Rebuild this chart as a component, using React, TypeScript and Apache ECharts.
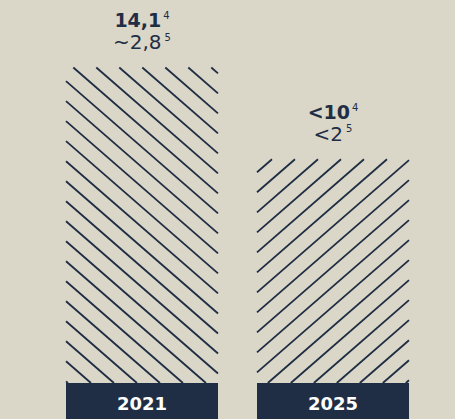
import React, { useEffect, useRef } from "react";
import * as echarts from "echarts";

const CATEGORIES = ["2021", "2025"];
const VALUES = [14.1, 10];
const MAIN_LABELS = ["14,1", "<10"];
const MAIN_NOTES = ["4", "4"];
const SUB_LABELS = ["~2,8", "<2"];
const SUB_NOTES = ["5", "5"];
const HATCH_DIRS = [1, -1];
const HATCH_OFFSETS = [7.3, 15];

const BG = "#dad6c8";
const NAVY = "#1f2e44";
const FONT = "'DejaVu Sans', sans-serif";
const BAR_RATIO = 152 / 191;
const HATCH_STEP = 23;
const HATCH_SLOPE = 0.87;

export default function App() {
  const ref = useRef<HTMLDivElement>(null);
  useEffect(() => {
    document.body.style.margin = "0";
    const chart = echarts.init(ref.current!, undefined, { renderer: "svg" });
    const option: any = {
      animation: false,
      backgroundColor: BG,
      grid: { left: 46.5, right: 26.5, top: 67.5, bottom: 36 },
      xAxis: {
        type: "category",
        data: CATEGORIES,
        axisLine: { show: false },
        axisTick: { show: false },
        axisLabel: {
          interval: 0,
          margin: 0,
          verticalAlign: "top",
          color: "#ffffff",
          fontFamily: FONT,
          fontWeight: "bold",
          fontSize: 18,
          backgroundColor: NAVY,
          width: 152,
          height: 31,
          lineHeight: 31,
          padding: [5, 0, 0, 0],
          align: "center",
        },
      },
      yAxis: {
        type: "value",
        min: 0,
        max: 14.1,
        show: false,
        splitLine: { show: false },
      },
      series: [
        {
          type: "custom",
          data: VALUES.map((v, i) => [i, v]),
          clip: false,
          renderItem: (params: any, api: any) => {
            const idx = params.dataIndex;
            const cat = api.value(0);
            const val = api.value(1);
            const topPt = api.coord([cat, val]);
            const basePt = api.coord([cat, 0]);
            const bw = api.size([1, 0])[0] * BAR_RATIO;
            const cx = topPt[0];
            const L = cx - bw / 2;
            const R = cx + bw / 2;
            const T = topPt[1];
            const B = basePt[1];
            const dir = HATCH_DIRS[idx];
            const off = HATCH_OFFSETS[idx];
            const s = HATCH_SLOPE;
            const tMaxY = (B - T) / s;
            const children: any[] = [];
            const kMin = -Math.ceil(tMaxY / HATCH_STEP) - 2;
            const kMax = Math.ceil((bw + tMaxY) / HATCH_STEP) + 2;
            for (let k = kMin; k <= kMax; k++) {
              const x0 = L + off + k * HATCH_STEP;
              let t1: number, t2: number;
              if (dir === 1) {
                t1 = Math.max(0, L - x0);
                t2 = Math.min(R - x0, tMaxY);
              } else {
                t1 = Math.max(0, x0 - R);
                t2 = Math.min(x0 - L, tMaxY);
              }
              if (t2 - t1 <= 0.5) continue;
              children.push({
                type: "line",
                shape: {
                  x1: x0 + dir * t1,
                  y1: T + s * t1,
                  x2: x0 + dir * t2,
                  y2: T + s * t2,
                },
                style: { stroke: NAVY, lineWidth: 1.8 },
              });
            }
            children.push({
              type: "text",
              x: cx,
              y: T - 47.2,
              style: {
                text: `{m|${MAIN_LABELS[idx]}}{s|${MAIN_NOTES[idx]}}`,
                align: "center",
                verticalAlign: "middle",
                fill: NAVY,
                rich: {
                  m: {
                    fontFamily: FONT,
                    fontWeight: "bold",
                    fontSize: 19,
                    lineHeight: 20,
                    fill: NAVY,
                    verticalAlign: "middle",
                  },
                  s: {
                    fontFamily: FONT,
                    fontSize: 10,
                    lineHeight: 13.2,
                    fill: NAVY,
                    verticalAlign: "top",
                    padding: [0, 0, 0, 2],
                  },
                },
              },
            });
            children.push({
              type: "text",
              x: cx,
              y: T - 25.3,
              style: {
                text: `{m|${SUB_LABELS[idx]}}{s|${SUB_NOTES[idx]}}`,
                align: "center",
                verticalAlign: "middle",
                fill: NAVY,
                rich: {
                  m: {
                    fontFamily: FONT,
                    fontWeight: "normal",
                    fontSize: 20,
                    lineHeight: 20,
                    fill: NAVY,
                    verticalAlign: "middle",
                  },
                  s: {
                    fontFamily: FONT,
                    fontWeight: "normal",
                    fontSize: 10,
                    lineHeight: 12.7,
                    fill: NAVY,
                    verticalAlign: "top",
                    padding: [0, 0, 0, 3],
                  },
                },
              },
            });
            return { type: "group", children };
          },
        },
      ],
    };
    chart.setOption(option);
    return () => chart.dispose();
  }, []);
  return <div ref={ref} style={{ width: 455, height: 419 }} />;
}
